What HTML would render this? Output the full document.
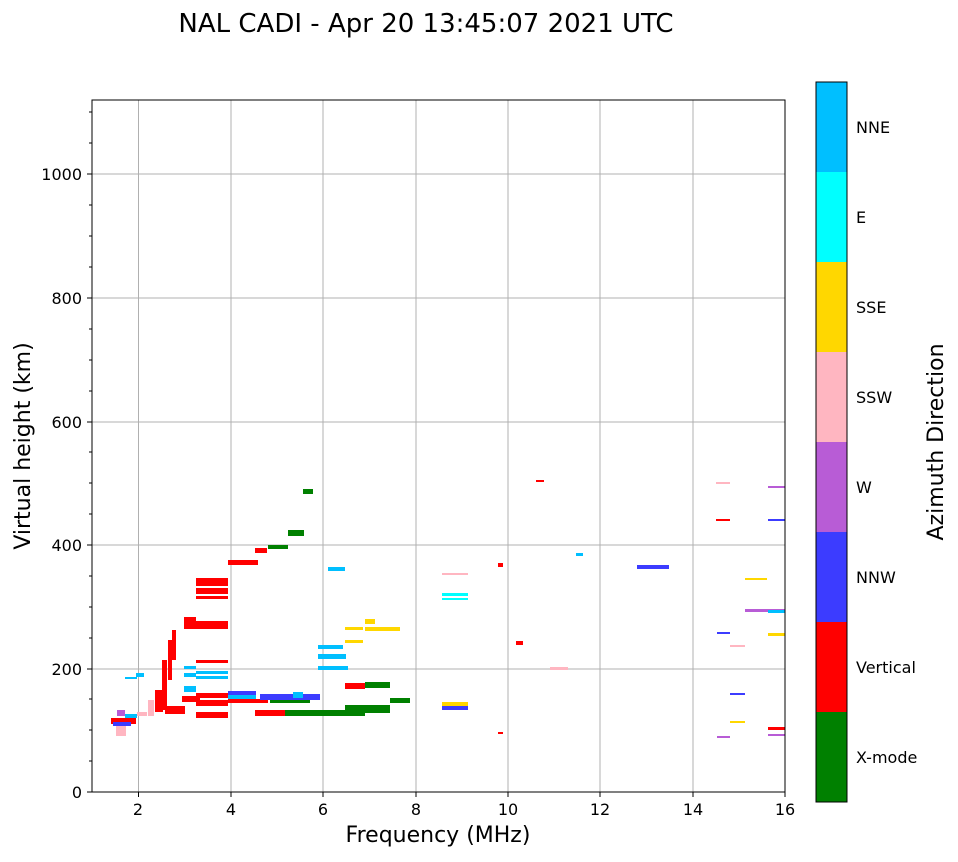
<!DOCTYPE html>
<html><head><meta charset="utf-8"><style>
body{margin:0;background:#fff;width:958px;height:857px;overflow:hidden;font-family:"Liberation Sans","DejaVu Sans",sans-serif;}
svg text{font-family:"DejaVu Sans","Liberation Sans",sans-serif;}
</style></head><body>
<svg width="958" height="857" xmlns="http://www.w3.org/2000/svg">
<text x="426" y="32" font-size="26" text-anchor="middle">NAL CADI - Apr 20 13:45:07 2021 UTC</text>
<g stroke="#b0b0b0" stroke-width="1">
<line x1="138.5" y1="100" x2="138.5" y2="792"/><line x1="231" y1="100" x2="231" y2="792"/>
<line x1="323" y1="100" x2="323" y2="792"/><line x1="416" y1="100" x2="416" y2="792"/>
<line x1="508" y1="100" x2="508" y2="792"/><line x1="600" y1="100" x2="600" y2="792"/>
<line x1="693" y1="100" x2="693" y2="792"/>
<line x1="92" y1="669" x2="785" y2="669"/><line x1="92" y1="545" x2="785" y2="545"/>
<line x1="92" y1="422" x2="785" y2="422"/><line x1="92" y1="298" x2="785" y2="298"/>
<line x1="92" y1="174" x2="785" y2="174"/>
</g>
<g>
<rect x="111" y="718" width="25" height="6" fill="red"/>
<rect x="113" y="722" width="18" height="4" fill="#3c3cff"/>
<rect x="117" y="710" width="8" height="6" fill="#b85cd6"/>
<rect x="116" y="726" width="10" height="10" fill="#ffb6c1"/>
<rect x="125" y="714" width="12" height="4" fill="#00bfff"/>
<rect x="137" y="712" width="10" height="4" fill="#ffb6c1"/>
<rect x="148" y="700" width="6" height="16" fill="#ffb6c1"/>
<rect x="155" y="690" width="8" height="22" fill="red"/>
<rect x="162" y="660" width="5" height="50" fill="red"/>
<rect x="168" y="640" width="4" height="40" fill="red"/>
<rect x="172" y="630" width="4" height="30" fill="red"/>
<rect x="165" y="706" width="20" height="8" fill="red"/>
<rect x="125" y="677" width="12" height="2" fill="#00bfff"/>
<rect x="136" y="673" width="8" height="4" fill="#00bfff"/>
<rect x="184" y="617" width="12" height="8" fill="red"/>
<rect x="184" y="625" width="12" height="4" fill="red"/>
<rect x="184" y="666" width="12" height="3" fill="#00bfff"/>
<rect x="184" y="673" width="12" height="4" fill="#00bfff"/>
<rect x="184" y="686" width="12" height="6" fill="#00bfff"/>
<rect x="182" y="696" width="18" height="6" fill="red"/>
<rect x="196" y="578" width="32" height="8" fill="red"/>
<rect x="196" y="588" width="32" height="6" fill="red"/>
<rect x="196" y="596" width="32" height="3" fill="red"/>
<rect x="196" y="621" width="32" height="8" fill="red"/>
<rect x="196" y="660" width="32" height="3" fill="red"/>
<rect x="196" y="671" width="32" height="3" fill="#00bfff"/>
<rect x="196" y="676" width="32" height="3" fill="#00bfff"/>
<rect x="196" y="693" width="32" height="5" fill="red"/>
<rect x="196" y="700" width="32" height="6" fill="red"/>
<rect x="196" y="712" width="32" height="6" fill="red"/>
<rect x="228" y="560" width="30" height="5" fill="red"/>
<rect x="228" y="691" width="28" height="4" fill="#3c3cff"/>
<rect x="228" y="695" width="28" height="6" fill="#00bfff"/>
<rect x="228" y="699" width="40" height="4" fill="red"/>
<rect x="255" y="548" width="12" height="5" fill="red"/>
<rect x="268" y="545" width="20" height="4" fill="green"/>
<rect x="288" y="530" width="16" height="6" fill="green"/>
<rect x="255" y="710" width="30" height="6" fill="red"/>
<rect x="260" y="694" width="60" height="6" fill="#3c3cff"/>
<rect x="285" y="710" width="80" height="6" fill="green"/>
<rect x="270" y="700" width="40" height="3" fill="green"/>
<rect x="293" y="692" width="10" height="6" fill="#00bfff"/>
<rect x="303" y="489" width="10" height="5" fill="green"/>
<rect x="328" y="567" width="17" height="4" fill="#00bfff"/>
<rect x="318" y="645" width="25" height="4" fill="#00bfff"/>
<rect x="318" y="654" width="28" height="5" fill="#00bfff"/>
<rect x="318" y="666" width="30" height="4" fill="#00bfff"/>
<rect x="345" y="683" width="20" height="6" fill="red"/>
<rect x="345" y="705" width="45" height="8" fill="green"/>
<rect x="365" y="682" width="25" height="6" fill="green"/>
<rect x="345" y="640" width="18" height="3" fill="#ffd700"/>
<rect x="345" y="627" width="18" height="3" fill="#ffd700"/>
<rect x="365" y="619" width="10" height="5" fill="#ffd700"/>
<rect x="365" y="627" width="35" height="4" fill="#ffd700"/>
<rect x="390" y="698" width="20" height="5" fill="green"/>
<rect x="442" y="702" width="26" height="4" fill="#ffd700"/>
<rect x="442" y="706" width="26" height="4" fill="#3c3cff"/>
<rect x="442" y="573" width="26" height="2" fill="#ffb6c1"/>
<rect x="442" y="593" width="26" height="3" fill="#00ffff"/>
<rect x="442" y="598" width="26" height="2" fill="#00ffff"/>
<rect x="498" y="732" width="5" height="2" fill="red"/>
<rect x="498" y="563" width="5" height="4" fill="red"/>
<rect x="516" y="641" width="7" height="4" fill="red"/>
<rect x="536" y="480" width="8" height="2" fill="red"/>
<rect x="576" y="553" width="7" height="3" fill="#00bfff"/>
<rect x="550" y="667" width="18" height="3" fill="#ffb6c1"/>
<rect x="637" y="565" width="32" height="4" fill="#3c3cff"/>
<rect x="716" y="519" width="14" height="2" fill="red"/>
<rect x="716" y="482" width="14" height="2" fill="#ffb6c1"/>
<rect x="745" y="578" width="22" height="2" fill="#ffd700"/>
<rect x="745" y="609" width="40" height="3" fill="#b85cd6"/>
<rect x="768" y="519" width="17" height="2" fill="#3c3cff"/>
<rect x="768" y="486" width="17" height="2" fill="#b85cd6"/>
<rect x="768" y="610" width="17" height="3" fill="#00bfff"/>
<rect x="768" y="633" width="17" height="3" fill="#ffd700"/>
<rect x="768" y="727" width="17" height="3" fill="red"/>
<rect x="768" y="734" width="17" height="2" fill="#b85cd6"/>
<rect x="730" y="693" width="15" height="2" fill="#3c3cff"/>
<rect x="730" y="721" width="15" height="2" fill="#ffd700"/>
<rect x="730" y="645" width="15" height="2" fill="#ffb6c1"/>
<rect x="717" y="632" width="13" height="2" fill="#3c3cff"/>
<rect x="717" y="736" width="13" height="2" fill="#b85cd6"/>
</g>
<rect x="92" y="100" width="693" height="692" fill="none" stroke="#000" stroke-width="1"/>
<g stroke="#000">
<line x1="138.5" y1="792" x2="138.5" y2="797"/><line x1="231" y1="792" x2="231" y2="797"/>
<line x1="323" y1="792" x2="323" y2="797"/><line x1="416" y1="792" x2="416" y2="797"/>
<line x1="508" y1="792" x2="508" y2="797"/><line x1="600" y1="792" x2="600" y2="797"/>
<line x1="693" y1="792" x2="693" y2="797"/><line x1="785" y1="792" x2="785" y2="797"/>
<line x1="87" y1="792" x2="92" y2="792"/><line x1="87" y1="669" x2="92" y2="669"/>
<line x1="87" y1="545" x2="92" y2="545"/><line x1="87" y1="422" x2="92" y2="422"/>
<line x1="87" y1="298" x2="92" y2="298"/><line x1="87" y1="174" x2="92" y2="174"/>
</g>
<g stroke="#000">
<line x1="89" y1="761" x2="92" y2="761"/><line x1="89" y1="730" x2="92" y2="730"/><line x1="89" y1="699" x2="92" y2="699"/>
<line x1="89" y1="638" x2="92" y2="638"/><line x1="89" y1="607" x2="92" y2="607"/><line x1="89" y1="576" x2="92" y2="576"/>
<line x1="89" y1="514" x2="92" y2="514"/><line x1="89" y1="483" x2="92" y2="483"/><line x1="89" y1="452" x2="92" y2="452"/>
<line x1="89" y1="391" x2="92" y2="391"/><line x1="89" y1="360" x2="92" y2="360"/><line x1="89" y1="329" x2="92" y2="329"/>
<line x1="89" y1="267" x2="92" y2="267"/><line x1="89" y1="236" x2="92" y2="236"/><line x1="89" y1="205" x2="92" y2="205"/>
<line x1="89" y1="143" x2="92" y2="143"/><line x1="89" y1="112" x2="92" y2="112"/>
</g>
<g font-size="16" text-anchor="middle">
<text x="138" y="815">2</text><text x="231" y="815">4</text><text x="323" y="815">6</text>
<text x="416" y="815">8</text><text x="508" y="815">10</text><text x="600" y="815">12</text>
<text x="693" y="815">14</text><text x="785" y="815">16</text>
</g>
<g font-size="16" text-anchor="end">
<text x="82" y="798">0</text><text x="82" y="675">200</text><text x="82" y="551">400</text>
<text x="82" y="428">600</text><text x="82" y="304">800</text><text x="82" y="180">1000</text>
</g>
<text x="438" y="842" font-size="22" text-anchor="middle">Frequency (MHz)</text>
<text transform="translate(30,446) rotate(-90)" font-size="22" text-anchor="middle">Virtual height (km)</text>
<rect x="816" y="82" width="31" height="90" fill="#00bfff"/>
<rect x="816" y="172" width="31" height="90" fill="#00ffff"/>
<rect x="816" y="262" width="31" height="90" fill="#ffd700"/>
<rect x="816" y="352" width="31" height="90" fill="#ffb6c1"/>
<rect x="816" y="442" width="31" height="90" fill="#b85cd6"/>
<rect x="816" y="532" width="31" height="90" fill="#3c3cff"/>
<rect x="816" y="622" width="31" height="90" fill="red"/>
<rect x="816" y="712" width="31" height="90" fill="green"/>
<rect x="816" y="82" width="31" height="720" fill="none" stroke="#000"/>
<g font-size="16">
<text x="856" y="133">NNE</text><text x="856" y="223">E</text><text x="856" y="313">SSE</text>
<text x="856" y="403">SSW</text><text x="856" y="493">W</text><text x="856" y="583">NNW</text>
<text x="856" y="673">Vertical</text><text x="856" y="763">X-mode</text>
</g>
<text transform="translate(943,442) rotate(-90)" font-size="22" text-anchor="middle">Azimuth Direction</text>
</svg>
</body></html>
